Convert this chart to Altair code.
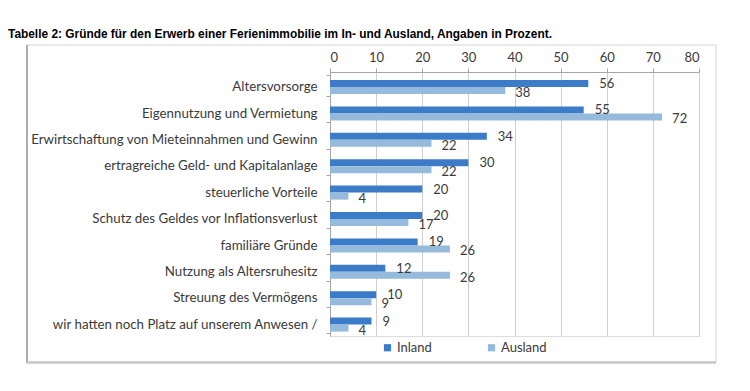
import altair as alt
import pandas as pd

categories = [
    "Altersvorsorge",
    "Eigennutzung und Vermietung",
    "Erwirtschaftung von Mieteinnahmen und Gewinn",
    "ertragreiche Geld- und Kapitalanlage",
    "steuerliche Vorteile",
    "Schutz des Geldes vor Inflationsverlust",
    "familiäre Gründe",
    "Nutzung als Altersruhesitz",
    "Streuung des Vermögens",
    "wir hatten noch Platz auf unserem Anwesen /",
]
inland = [56, 55, 34, 30, 20, 20, 19, 12, 10, 9]
ausland = [38, 72, 22, 22, 4, 17, 26, 26, 9, 4]
series = ["Inland", "Ausland"]
colors = ["#3b7bc8", "#95badb"]
x_ticks = [0, 10, 20, 30, 40, 50, 60, 70, 80]
title_text = "Tabelle 2: Gründe für den Erwerb einer Ferienimmobilie im In- und Ausland, Angaben in Prozent."

rows = []
for c, a, b in zip(categories, inland, ausland):
    rows.append({"Grund": c, "Serie": "Inland", "Wert": a})
    rows.append({"Grund": c, "Serie": "Ausland", "Wert": b})
df = pd.DataFrame(rows)

FONT = "Lato"
TXT = "#3a3a3a"
W, H = 369, 264

y_enc = alt.Y(
    "Grund:N",
    sort=categories,
    scale=alt.Scale(paddingInner=0.2, paddingOuter=0.1),
    axis=alt.Axis(
        title=None,
        labelFont=FONT,
        labelFontSize=13.3,
        labelColor=TXT,
        labelPadding=9,
        labelLimit=330,
        labelOffset=1.5,
        tickBand="extent",
        tickSize=4,
        tickColor="#a6a6a6",
        domainColor="#a6a6a6",
        grid=False,
    ),
)
x_enc = alt.X(
    "Wert:Q",
    scale=alt.Scale(domain=[0, 80], nice=False),
    axis=alt.Axis(
        orient="top",
        title=None,
        values=x_ticks,
        labelFont=FONT,
        labelFontSize=13,
        labelColor=TXT,
        labelPadding=4,
        tickSize=4,
        tickColor="#a6a6a6",
        domainColor="#a6a6a6",
        gridColor="#cfcfcf",
    ),
)
yoff = alt.YOffset(
    "Serie:N",
    sort=series,
    scale=alt.Scale(paddingInner=0, paddingOuter=0.51, align=0.755),
)
color_enc = alt.Color(
    "Serie:N",
    sort=series,
    scale=alt.Scale(domain=series, range=colors),
    legend=alt.Legend(
        title=None,
        orient="none",
        legendX=51,
        legendY=269,
        direction="horizontal",
        symbolType="square",
        symbolSize=52,
        symbolStrokeWidth=0,
        labelFont=FONT,
        labelFontSize=13,
        labelColor=TXT,
        labelOffset=3,
        columnPadding=53,
    ),
)

bars = alt.Chart(df).mark_bar(size=7).encode(
    y=y_enc, x=x_enc, yOffset=yoff, color=color_enc
)


def value_labels(serie, dx, dy):
    return alt.Chart(df).transform_filter(
        alt.datum.Serie == serie
    ).mark_text(
        align="left", baseline="middle", dx=dx, dy=dy, font=FONT, fontSize=13, color=TXT
    ).encode(
        y=alt.Y("Grund:N", sort=categories),
        x="Wert:Q",
        yOffset=yoff,
        text="Wert:Q",
    )


labels_in = value_labels("Inland", 11, 0.5)
labels_aus = value_labels("Ausland", 10, 2.5)

frame_df = pd.DataFrame({"k": [0]})
frame = alt.Chart(frame_df).mark_rect(fill="transparent", stroke="#d4d4d4", strokeWidth=1).encode(
    x=alt.value(-303), x2=alt.value(386), y=alt.value(-27), y2=alt.value(290)
)
frame_left = alt.Chart(frame_df).mark_rule(color="#999999", strokeWidth=1.5).encode(
    x=alt.value(-303), y=alt.value(-27), y2=alt.value(291)
)
frame_bottom = alt.Chart(frame_df).mark_rule(color="#c8c8c8", strokeWidth=2.5).encode(
    x=alt.value(-303), x2=alt.value(386), y=alt.value(290.5)
)

chart = alt.layer(frame, frame_left, frame_bottom, bars, labels_in, labels_aus).properties(
    width=W,
    height=H,
    autosize=alt.AutoSizeParams(type="none"),
    padding={"left": 322, "top": 64, "right": 40, "bottom": 40},
    title=alt.TitleParams(
        text=title_text,
        anchor="start",
        frame="group",
        font="Liberation Sans",
        fontSize=11.9,
        fontWeight="bold",
        color="#000000",
        dx=-322,
        dy=-3,
        offset=0,
    ),
).resolve_scale(y="shared").configure_view(stroke=None).configure(background="white")

chart.save("out.html", embed_options={"renderer": "svg", "actions": False})
